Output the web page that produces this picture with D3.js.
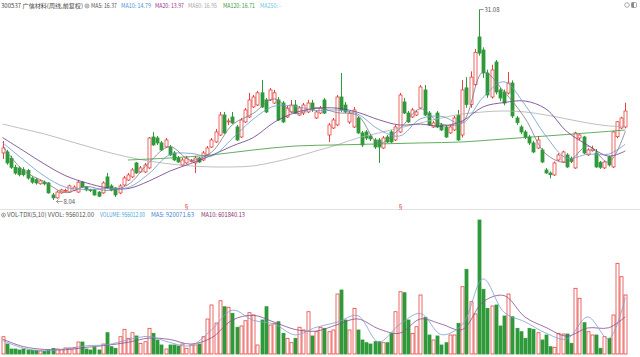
<!DOCTYPE html>
<html><head><meta charset="utf-8">
<script src="https://cdn.jsdelivr.net/npm/d3@7"></script>
<style>
body{margin:0;background:#fff;}
svg{display:block;}
text{font-family:"Noto Sans CJK SC","Noto Sans",Roboto,sans-serif;}
</style>
</head><body>
<svg id="c" width="640" height="357"></svg>
<script>
// ---- weekly candles (price) ----
const open=[13.73,13.85,13.1,12.0,11.9,11.7,11.6,10.7,10.5,10.0,10.2,10.1,8.65,8.3,8.9,9.1,9.0,9.2,9.0,10.2,
9.6,9.3,9.25,9.0,8.9,10.83,9.74,9.5,8.89,9.86,10.46,10.83,12.52,11.43,11.43,11.92,15.66,15.54,14.94,14.45,
14.45,13.73,13.12,12.28,12.52,12.76,12.52,13.12,12.88,13.49,14.45,15.06,15.9,18.32,17.48,18.08,16.87,15.66,17.48,18.08,
19.29,19.53,21.0,20.14,20.14,19.77,20.14,19.77,18.08,18.69,19.53,18.32,18.56,18.69,19.77,17.96,18.56,20.14,15.9,16.75,
17.12,20.5,19.53,17.48,16.87,17.96,16.15,16.27,15.78,15.3,15.3,14.33,15.66,16.27,15.3,16.27,19.9,18.56,18.08,18.32,
19.17,21.35,18.56,16.87,18.56,17.12,16.87,16.15,16.51,18.3,15.9,21.6,19.6,22.0,27.76,26.18,23.4,20.5,24.73,21.35,
21.1,20.98,22.19,17.96,16.87,16.27,15.66,14.94,14.33,14.09,11.67,11.3,11.07,12.88,12.64,13.49,13.1,11.92,15.54,15.66,
13.5,14.0,13.73,12.6,11.92,13.25,12.04,15.7,16.75,16.87];
const high=[15.18,14.1,13.4,12.3,12.1,12.0,11.8,10.9,10.7,10.5,10.4,10.2,8.9,9.2,9.4,9.4,9.9,9.8,10.45,10.3,
9.7,9.4,9.35,9.1,10.3,11.31,9.95,9.6,9.95,10.95,11.3,11.9,12.64,12.15,12.52,15.66,16.27,15.78,15.18,15.54,
14.7,13.97,13.37,13.12,13.37,13.0,13.37,13.25,13.97,14.57,15.54,16.63,18.69,18.69,17.9,18.69,17.12,17.96,19.17,21.0,
20.74,21.23,22.56,20.38,21.59,21.35,20.5,20.02,19.41,20.14,20.14,19.41,19.77,20.14,20.14,18.93,19.41,20.38,17.36,17.96,
20.74,23.4,19.9,18.81,19.29,18.2,16.39,16.51,16.03,15.54,15.54,15.78,15.9,16.51,17.12,20.98,20.38,18.81,19.17,18.93,
21.95,21.95,18.81,17.6,18.81,17.36,17.12,17.12,18.2,18.93,22.56,22.9,23.6,26.3,31.08,26.5,23.8,24.4,24.97,21.6,
21.4,23.52,22.5,18.2,17.1,16.5,15.9,15.2,15.78,14.3,11.9,11.5,12.7,13.7,14.0,13.7,13.3,16.3,16.0,15.8,
14.3,14.6,14.2,12.76,12.76,13.4,16.4,17.6,18.1,19.8];
const low=[13.0,12.3,11.8,11.1,10.9,10.9,10.5,10.0,9.9,9.9,9.8,8.8,8.04,8.2,8.8,8.95,8.9,9.1,8.9,9.5,
9.1,9.0,8.55,8.4,8.8,9.4,9.1,8.41,8.75,9.75,10.35,10.7,11.2,11.3,11.3,11.8,14.6,14.7,13.97,14.33,
13.37,12.76,12.52,12.16,12.4,12.6,11.31,12.52,12.76,13.37,14.33,14.94,15.78,16.03,17.1,17.24,15.18,15.54,17.36,17.96,
19.17,19.41,19.17,18.56,20.02,19.65,17.6,17.36,17.96,18.56,18.44,18.2,18.32,18.56,18.69,17.84,18.44,18.44,15.06,16.63,
17.0,18.69,18.56,17.24,16.75,16.03,14.45,15.3,15.18,14.21,12.52,14.21,14.94,14.94,15.18,16.15,18.44,17.36,17.96,18.2,
19.05,18.2,17.0,16.75,16.75,16.39,15.54,16.03,16.39,15.18,15.6,19.2,19.2,21.8,25.5,22.8,20.4,20.3,20.8,20.0,
19.5,20.8,17.96,17.1,16.0,15.4,14.7,13.7,14.2,12.5,11.2,10.67,10.95,12.76,12.52,11.92,12.5,11.8,15.3,13.6,
13.37,13.9,11.92,11.8,11.8,12.1,11.9,15.5,16.6,16.7];
const close=[14.33,12.52,12.0,11.3,11.1,11.1,10.7,10.2,10.1,10.35,10.0,8.9,8.3,9.0,9.25,9.2,9.75,9.6,10.2,9.6,
9.25,9.2,8.65,8.5,10.1,9.5,9.25,8.65,9.74,10.71,11.07,11.67,11.31,11.92,12.28,15.54,14.7,14.94,14.09,15.3,
13.49,12.88,12.64,12.88,13.12,12.8,13.12,12.64,13.73,14.33,15.3,16.27,18.32,16.15,17.6,17.36,15.3,17.72,18.93,20.14,
20.5,21.0,19.29,18.69,21.35,21.0,17.72,17.48,19.17,19.53,18.56,19.17,19.53,19.77,18.93,18.69,19.17,18.56,17.12,17.72,
20.5,18.93,18.69,18.56,18.93,16.15,14.7,15.54,15.42,14.45,14.45,15.54,15.06,15.06,16.87,20.74,18.56,17.48,18.93,18.69,
21.71,18.32,17.12,17.36,16.87,16.51,15.66,16.87,17.96,15.3,21.35,19.6,22.9,25.9,25.8,23.4,20.74,23.77,21.1,20.38,
19.77,22.19,18.2,17.4,16.27,15.66,14.94,13.85,15.3,12.64,11.31,11.1,12.52,13.49,13.85,12.04,12.7,16.15,15.9,13.73,
14.1,14.2,12.04,12.0,12.64,12.28,16.27,17.5,17.96,18.8];
// ---- volume (万) ----
const volume=[28.0,16.2,8.1,8.1,6.5,8.1,6.5,5.7,5.7,4.9,4.1,6.5,8.9,8.1,7.6,9.7,9.7,10.2,19.4,19.4,
8.1,6.5,10.9,6.5,16.2,34.5,11.8,9.2,28.0,40.0,25.4,34.5,29.2,17.3,19.9,41.6,33.5,22.7,14.6,8.1,
14.6,14.6,13.0,16.2,9.2,14.6,14.6,16.2,28.0,56.7,79.4,50.2,86.3,76.6,75.7,65.9,43.3,45.4,53.9,66.9,
63.2,14.6,55.1,76.6,47.0,49.7,52.3,33.5,25.4,18.3,25.4,43.3,38.9,68.5,29.2,36.1,43.3,41.6,36.1,38.9,
97.2,103.7,55.1,38.9,74.0,38.9,22.7,18.3,16.2,19.9,19.9,18.3,18.3,33.5,68.5,100.9,99.3,55.1,33.5,44.2,
95.6,59.5,30.8,22.7,29.2,14.6,18.3,30.8,30.8,49.7,109.0,137.2,84.7,64.8,217.1,104.8,74.0,77.8,79.4,45.4,
61.6,97.2,60.4,41.6,36.1,25.4,41.6,40.0,34.5,22.7,30.8,11.8,10.9,33.5,32.4,32.4,17.3,106.4,90.2,50.7,
36.1,30.8,30.8,9.2,28.0,25.4,63.2,146.9,125.2,95.6];
const maIdx=[0,5,10,15,20,25,30,35,40,45,50,55,60,65,70,75,80,85,90,95,100,105,110,115,120,125,130,135,140,145,149];
const ma5=[14.6,11.6,10.27,8.93,9.68,9.19,9.88,12.54,14.5,12.86,13.82,17.14,18.52,20.27,18.49,19.22,18.61,18.25,14.91,16.65,19.07,17.24,17.43,23.52,21.15,17.94,13.61,12.6,14.56,12.63,16.37];
const ma10=[15.0,12.9,10.94,9.6,9.31,9.44,9.54,11.21,13.52,13.68,13.34,15.48,17.83,19.39,19.38,18.86,18.92,18.43,16.58,15.78,17.86,18.16,17.33,20.47,22.34,19.55,15.78,13.1,13.58,13.59,14.79];
const ma20=[15.6,14.0,12.4,11.0,10.12,9.52,9.42,10.32,11.53,12.45,13.43,14.58,15.59,17.44,18.6,19.12,19.15,18.64,17.75,17.11,17.22,16.97,17.6,19.31,19.83,20.01,19.06,16.33,14.68,13.35,13.97];
const ma60=[17.23,16.63,16.03,15.3,14.57,13.85,13.24,12.76,12.4,12.16,12.04,12.04,12.16,12.64,13.24,13.97,14.7,15.54,16.15,16.75,17.36,17.96,18.44,18.69,18.81,18.69,18.32,17.84,17.36,17.0,16.95];
const ma120Idx=[30,40,50,60,70,80,90,100,110,120,130,140,149];
const ma120=[12.88,13.12,13.49,14.09,14.57,14.7,14.82,14.94,15.06,15.42,15.78,16.15,16.5];
const volMa5=[22,9.4,5.38,8.16,13.36,14.92,22.88,28.5,18.7,13.52,38.98,70.94,54.54,48.6,30.98,43.2,51.42,62.12,19.4,47.9,65.54,31.36,47.72,121.72,67.64,52.14,33.92,24.2,60.14,24.84,92.0];
const volMa10=[24,12,7.39,6.77,10.76,14.14,18.9,25.69,23.6,16.11,26.25,54.96,62.74,51.57,39.79,37.09,47.31,56.77,40.76,33.65,56.72,48.45,39.54,84.72,94.68,59.89,43.03,29.06,42.17,42.49,60.18];
// ---- texts ----
const title="300537 广信材料(周线,前复权)";
const priceLegend=["MA5: 16.37","MA10: 14.79","MA20: 13.97","MA60: 16.95","MA120: 16.71","MA250: -"];
const volTitle="VOL-TDX(5,10) VVOL: 956012.00";
const volLegend=["VOLUME: 956012.00","MA5: 920071.63","MA10: 601840.13"];
const maxLabel="31.08", minLabel="8.04";

// ---- styles / layout ----
const RED="#e5433f", GREEN="#2f9a3a";
const priceLegendX=[91,121,155,188,223,260];
const priceLegendW=[26,30,29,29,32,21];
const priceLegendC=["#555","#4e8fd6","#a0358f","#aaa","#3b9a3b","#6cc9e0"];
const volLegendX=[100,151,201];
const volLegendW=[45,43,44];
const volLegendC=["#49a6d6","#3f7fd0","#8a2f6a"];

const svg=d3.select("#c");
const n=close.length;
const x=d3.scaleLinear().domain([0,n-1]).range([2.5,625.3]);
const y=d3.scaleLinear().domain([8.04,31.08]).range([200,9.5]);
const yv=d3.scaleLinear().domain([0,217.1]).range([354,220]);
const bw=3;

// separator
svg.append("line").attr("x1",0).attr("x2",640).attr("y1",209.5).attr("y2",209.5).attr("stroke","#e2e2e2");

// candles
const g=svg.append("g");
d3.range(n).forEach(i=>{
  const up=close[i]>=open[i];
  const col=up?RED:GREEN;
  const cx=Math.round(x(i))+0.5;
  g.append("line").attr("x1",cx).attr("x2",cx).attr("y1",y(high[i])).attr("y2",y(low[i])).attr("stroke",col).attr("stroke-width",1);
  const top=y(Math.max(open[i],close[i])), bot=y(Math.min(open[i],close[i]));
  g.append("rect").attr("x",cx-1.5).attr("y",top).attr("width",bw).attr("height",Math.max(0.8,bot-top))
    .attr("fill",up?"#fff":col).attr("stroke",col).attr("stroke-width",0.8);
  const vt=yv(volume[i]);
  svg.append("rect").attr("x",cx-1.5).attr("y",vt).attr("width",bw).attr("height",354-vt)
    .attr("fill",up?"#fff":col).attr("stroke",col).attr("stroke-width",0.8);
});

// MA lines
function drawLine(idx,vals,sy,color,w){
  const line=d3.line().x((d,k)=>x(idx[k])).y(d=>sy(d)).curve(d3.curveCatmullRom.alpha(0.5));
  svg.append("path").datum(vals).attr("d",line).attr("fill","none").attr("stroke",color).attr("stroke-width",w).attr("opacity",0.9);
}
drawLine(maIdx,ma60,y,"#b0b0b0",0.9);
drawLine(ma120Idx,ma120,y,"#3b9a3b",0.9);
drawLine(maIdx,ma20,y,"#6b3a86",0.9);
drawLine(maIdx,ma10,y,"#6d9ad0",0.9);
drawLine(maIdx,ma5,y,"#7a7a8a",0.9);
drawLine(maIdx,volMa10,yv,"#8a4f8f",0.9);
drawLine(maIdx,volMa5,yv,"#7f9fd0",0.9);

// legends
const fs=6;
function label(t,xp,yp,w,c){
  svg.append("text").attr("x",xp).attr("y",yp).attr("font-size",fs).attr("fill",c)
    .attr("textLength",w).attr("lengthAdjust","spacingAndGlyphs").text(t);
}
label(title,1,8,82,"#444");
svg.append("circle").attr("cx",87).attr("cy",6).attr("r",2).attr("fill","none").attr("stroke","#777").attr("stroke-width",0.7);
svg.append("circle").attr("cx",87).attr("cy",6).attr("r",0.8).attr("fill","#777");
priceLegend.forEach((t,k)=>label(t,priceLegendX[k],8,priceLegendW[k],priceLegendC[k]));
svg.append("circle").attr("cx",3.5).attr("cy",215).attr("r",2).attr("fill","none").attr("stroke","#777").attr("stroke-width",0.7);
svg.append("circle").attr("cx",3.5).attr("cy",215).attr("r",0.8).attr("fill","#777");
label(volTitle,7,217,87,"#555");
volLegend.forEach((t,k)=>label(t,volLegendX[k],217,volLegendW[k],volLegendC[k]));

// top-right icons
svg.append("circle").attr("cx",627).attr("cy",5).attr("r",2.3).attr("fill","none").attr("stroke","#888").attr("stroke-width",0.7);
svg.append("rect").attr("x",631.5).attr("y",2.5).attr("width",5).attr("height",5).attr("rx",1).attr("fill","none").attr("stroke","#888").attr("stroke-width",0.7);
svg.append("rect").attr("x",631.5).attr("y",2.5).attr("width",2.5).attr("height",5).attr("fill","#888");

// max / min annotations
const iMax=d3.maxIndex(high), iMin=d3.minIndex(low);
const mx=Math.round(x(iMax))+0.5, my=y(high[iMax]);
svg.append("path").attr("d",`M${mx},${my}H${mx+4}`).attr("stroke","#666").attr("stroke-width",0.7).attr("fill","none");
svg.append("text").attr("x",mx+5).attr("y",my+2.5).attr("font-size",fs).attr("fill","#555").text(maxLabel);
const nx=Math.round(x(iMin))+0.5, ny=y(low[iMin]);
svg.append("path").attr("d",`M${nx+9},${ny+1.5}H${nx+3}M${nx+5},${ny-0.5}L${nx+3},${ny+1.5}L${nx+5},${ny+3.5}`).attr("stroke","#666").attr("stroke-width",0.6).attr("fill","none");
svg.append("text").attr("x",nx+10).attr("y",ny+3.5).attr("font-size",fs).attr("fill","#555").text(minLabel);

// event markers
[44,95].forEach(i=>{
  svg.append("text").attr("x",Math.round(x(i))+0.5).attr("y",209).attr("font-size",6).attr("text-anchor","middle").attr("fill","#d33").text("§");
});
</script>
</body></html>
